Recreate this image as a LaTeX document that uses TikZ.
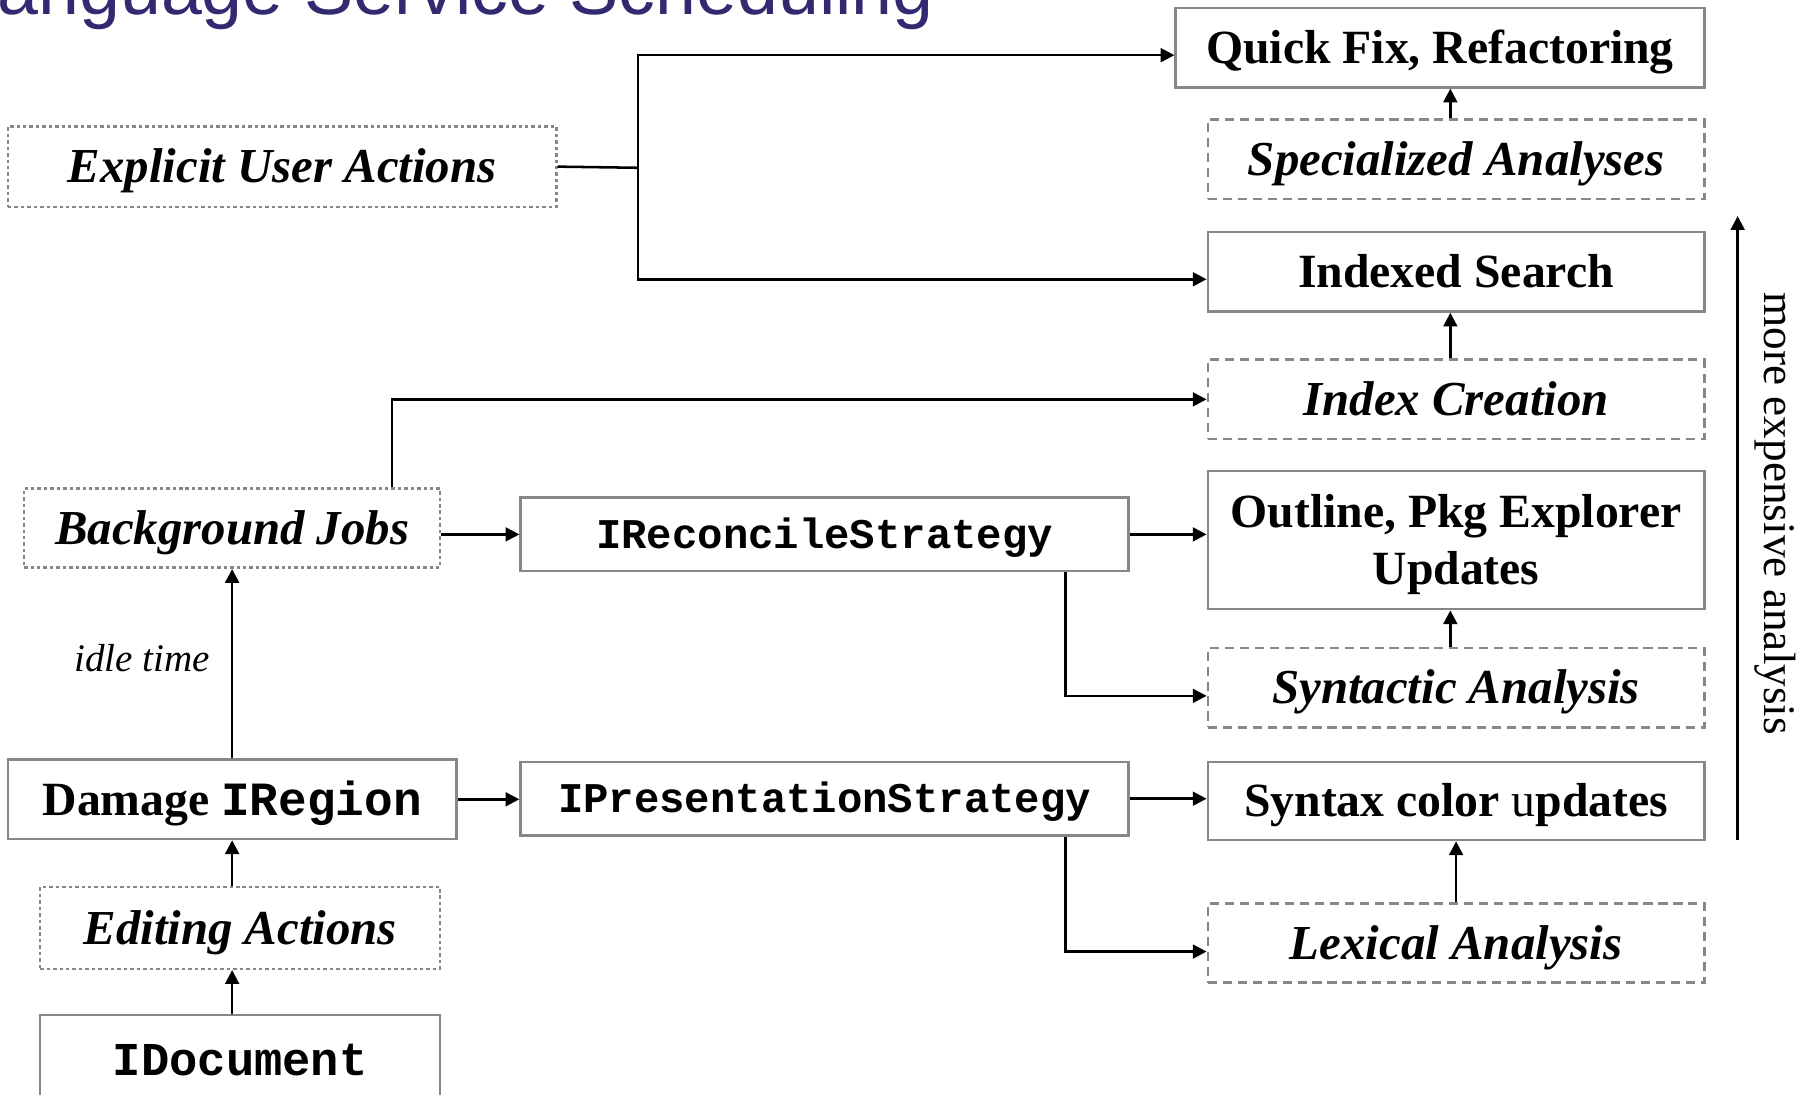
\documentclass[tikz,border=0pt]{standalone}
\usepackage{fontspec}
\setmainfont{Liberation Serif}
\setmonofont{Liberation Mono}
\newfontfamily\headfont{Liberation Sans}
\usetikzlibrary{arrows.meta}
\definecolor{edgegray}{RGB}{135,135,135}
\definecolor{headblue}{RGB}{50,42,112}

\tikzset{
  box/.style={draw=edgegray, line width=2.2pt, rectangle, inner sep=0pt, align=center, text=black},
  solidbox/.style={box},
  dashbox/.style={box, dash pattern=on 8pt off 5pt},
  dotbox/.style={box, dash pattern=on 3pt off 2.6pt},
  upfont/.style={font=\fontsize{41.5}{49}\selectfont\bfseries, text height=32.4pt, text depth=5pt},
  itfont/.style={font=\fontsize{42.5}{50}\selectfont\bfseries\itshape, text height=33pt, text depth=5pt},
  monofont/.style={font=\fontsize{36.8}{44}\selectfont\ttfamily\bfseries, text height=29pt, text depth=5pt},
  bigmono/.style={font=\fontsize{41}{49}\selectfont\ttfamily\bfseries, text height=30pt, text depth=5pt},
  link/.style={line width=2.2pt},
  arr/.style={line width=2.2pt, -{Triangle[length=12pt,width=12pt]}},
}

\begin{document}
\begin{tikzpicture}[x=1pt, y=-1pt]
  \useasboundingbox (0,0) rectangle (1568,952);
  \fill[white] (0,0) rectangle (1568,952);
  \clip (0,0) rectangle (1568,952);

  % slide heading
  \node[anchor=base west, inner sep=0pt, text=headblue,
        font=\fontsize{64}{76}\selectfont\headfont] (title) at (-38,13)
        {Language Service Scheduling};

  % right column: results and analyses
  \node[solidbox, upfont, minimum width=460pt, minimum height=69pt] (qf)   at (1253,41.5)  {Quick Fix, Refactoring};
  \node[dashbox,  itfont, minimum width=432pt, minimum height=69pt] (spec) at (1267,138.5)  {Specialized Analyses};
  \node[solidbox, upfont, minimum width=432pt, minimum height=69pt] (idx)  at (1267,236.5)  {Indexed Search};
  \node[dashbox,  itfont, minimum width=432pt, minimum height=69pt] (ic)   at (1267,347.5)  {Index Creation};
  \node[solidbox, upfont, text height=81.4pt, minimum width=432pt, minimum height=120pt] (out) at (1267,470)
       {Outline, Pkg Explorer\\Updates};
  \node[dashbox,  itfont, minimum width=432pt, minimum height=69pt] (syn)  at (1267,598.5)  {Syntactic Analysis};
  \node[solidbox, upfont, minimum width=432pt, minimum height=68pt] (col)  at (1267,697)    {Syntax color {\mdseries u}pdates};
  \node[dashbox,  itfont, minimum width=432pt, minimum height=69pt] (lex)  at (1267,820.5)  {Lexical Analysis};

  % middle column: strategies
  \node[solidbox, monofont, minimum width=529pt, minimum height=64pt] (rs) at (717.5,465) {IReconcileStrategy};
  \node[solidbox, monofont, minimum width=529pt, minimum height=64pt] (ps) at (717.5,695) {IPresentationStrategy};

  % left column: triggers
  \node[dotbox,   itfont, minimum width=477pt, minimum height=70pt] (eua) at (245.5,145)  {Explicit User Actions};
  \node[dotbox,   itfont, minimum width=362pt, minimum height=69pt] (bj)  at (202,459.5)  {Background Jobs};
  \node[solidbox, upfont, minimum width=390pt, minimum height=69pt] (dmg) at (202,695.5)  {Damage \texttt{IRegion}};
  \node[dotbox,   itfont, minimum width=348pt, minimum height=71pt] (ea)  at (209,807.5)  {Editing Actions};
  \node[solidbox, bigmono, minimum width=348pt, minimum height=80pt] (doc) at (209,923)   {IDocument};

  % explicit user actions fan out
  \coordinate (split) at (555,146);
  \draw[link] (eua.east) -- (split);
  \draw[arr] (split) |- ([yshift=-6.5pt]qf.west);
  \draw[arr] (split) |- ([yshift=-6.5pt]idx.west);

  % background jobs
  \draw[arr] ([xshift=-43pt]bj.north east) |- (ic.west);
  \draw[arr] (bj.east |- rs.west) -- (rs.west);
  \draw[arr] (rs.east) -- (rs.east -| out.west);
  \draw[arr] ([xshift=-56pt]rs.south east) |- ([yshift=-7pt]syn.west);

  % damage propagation
  \draw[arr] (dmg.north) -- node[pos=0.53, left=18pt, inner sep=0pt,
        font=\fontsize{34}{40}\selectfont\itshape] (idle) {idle time} (bj.south);
  \draw[arr] (dmg.east) -- (dmg.east -| ps.west);
  \draw[arr] (ps.east) -- (ps.east -| col.west);
  \draw[arr] ([xshift=-56pt]ps.south east) |- ([yshift=-7.5pt]lex.west);

  % editing chain
  \draw[arr] (ea.north -| dmg.south) -- (dmg.south);
  \draw[arr] (doc.north -| dmg.south) -- (ea.south -| dmg.south);

  % analyses feed their results
  \draw[arr] ([xshift=-5pt]spec.north) -- ([xshift=-5pt]qf.south -| spec.north);
  \draw[arr] ([xshift=-5pt]ic.north) -- ([xshift=-5pt]idx.south);
  \draw[arr] ([xshift=-5pt]syn.north) -- ([xshift=-5pt]out.south);
  \draw[arr] (lex.north) -- (col.south);

  % cost axis
  \coordinate (costlow) at (1512,731);
  \coordinate (costhigh) at (1512,188);
  \draw[arr] (costlow) -- (costhigh);
  \node[rotate=-90, inner sep=0pt, font=\fontsize{39.4}{47}\selectfont] (cost) at (1545,447) {more expensive analysis};
\end{tikzpicture}
\end{document}
